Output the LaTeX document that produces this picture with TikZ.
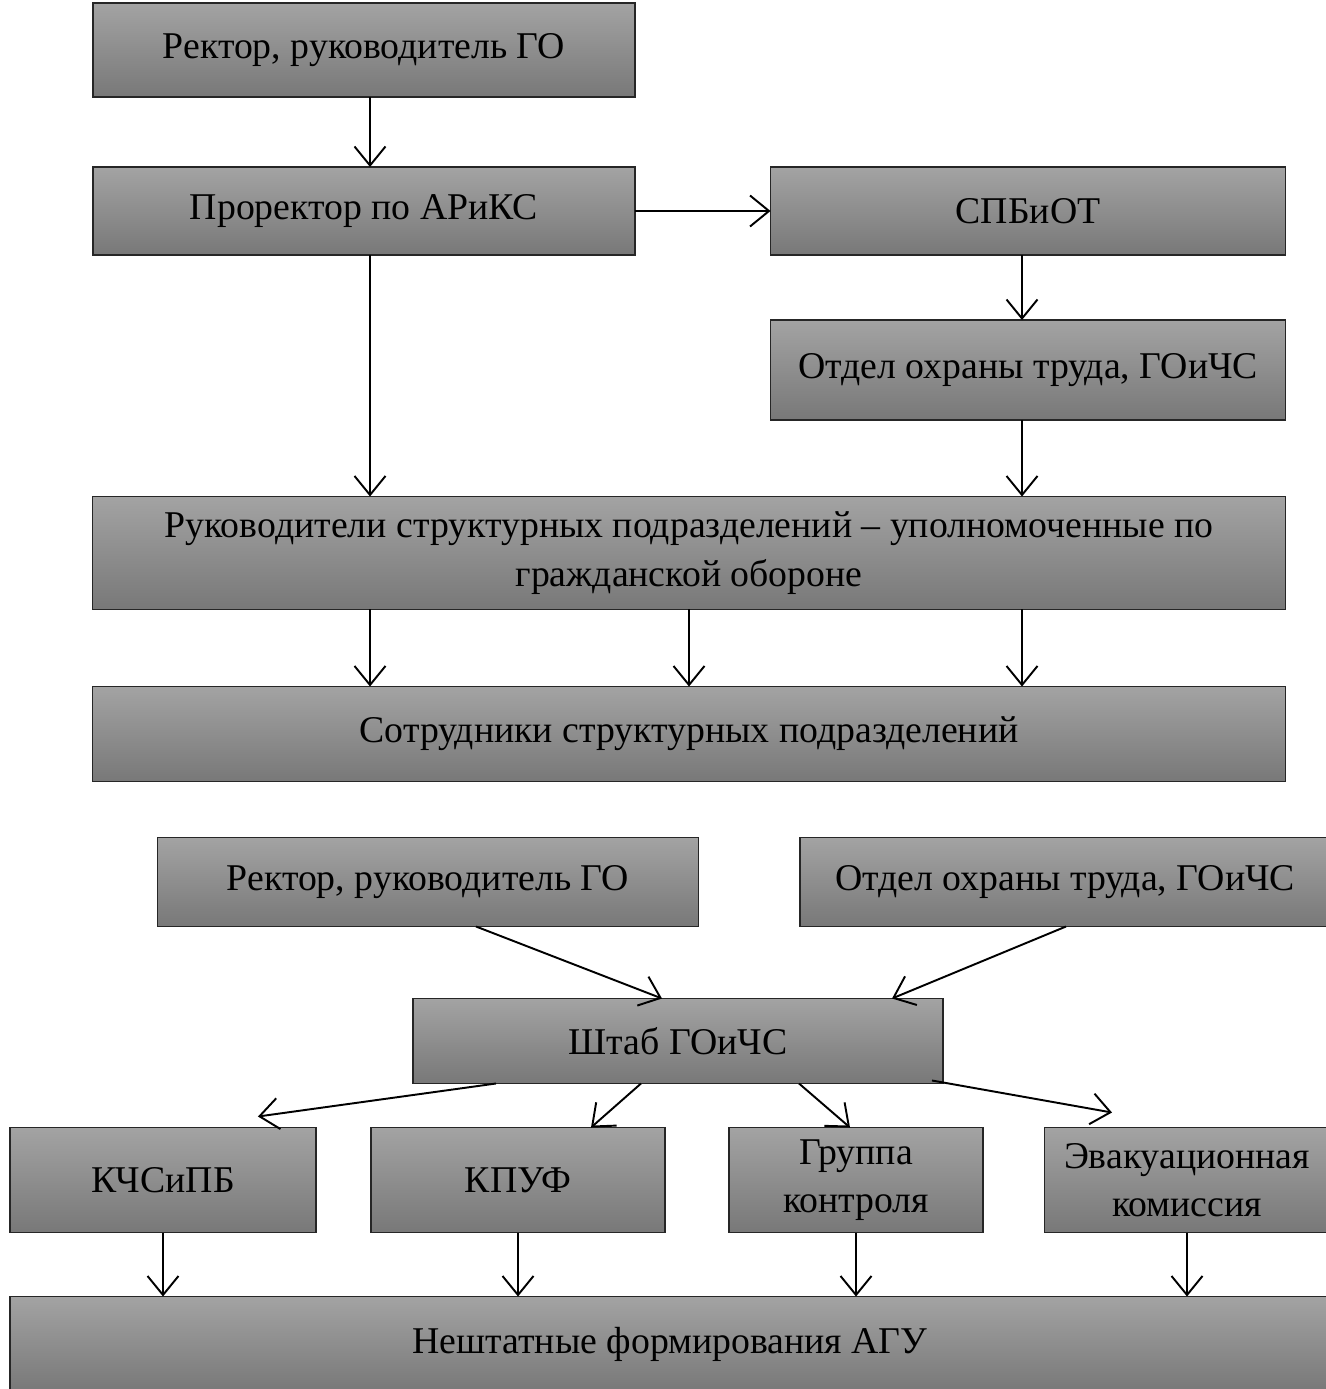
\documentclass[tikz,border=0pt]{standalone}
\usepackage{fontspec}
\setmainfont{Liberation Serif}
\usepackage{tikz}
\usetikzlibrary{calc}
\usetikzlibrary{arrows.meta}

\definecolor{boxtop}{RGB}{163,163,163}
\definecolor{boxbot}{RGB}{120,120,120}

\begin{document}
\begin{tikzpicture}[x=0.02cm, y=-0.02cm,
    orgbox/.style={draw=black!85, line width=0.9pt, rectangle, inner sep=0pt, outer sep=0pt,
      top color=boxtop, bottom color=boxbot, align=center,
      font=\fontsize{21.5}{27.5}\selectfont},
    arr/.style={line width=1.1pt, -{Straight Barb[length=3.8mm, width=6.2mm]}}]
    \useasboundingbox (0,0) rectangle (1325,1389);

    \node[orgbox, minimum width=10.84cm, minimum height=1.88cm] (A) at (364,50)  {Ректор, руководитель ГО};
    \node[orgbox, minimum width=10.84cm, minimum height=1.76cm] (B) at (364,211) {Проректор по АРиКС};
    \node[orgbox, minimum width=10.30cm, minimum height=1.76cm] (C) at (1028,211) {СПБиОТ};
    \node[orgbox, minimum width=10.30cm, minimum height=2.00cm] (D) at (1028,370) {Отдел охраны труда, ГОиЧС};
    \node[orgbox, minimum width=23.86cm, minimum height=2.26cm] (E) at (689,553) {Руководители структурных подразделений – уполномоченные по\\гражданской обороне};
    \node[orgbox, minimum width=23.86cm, minimum height=1.90cm] (F) at (689,734) {Сотрудники структурных подразделений};

    \coordinate (left) at ($(B.south)+(6,0)$);
    \coordinate (right) at ($(D.south)+(-6,0)$);
    \draw[arr] (A.south -| left) -- (B.north -| left);
    \draw[arr] (B.east) -- (C.west);
    \draw[arr] (C.south -| right) -- (D.north -| right);
    \draw[arr] (left) -- (left |- E.north);
    \draw[arr] (right) -- (right |- E.north);
    \draw[arr] (E.south -| left) -- (F.north -| left);
    \draw[arr] (E.south) -- (F.north);
    \draw[arr] (E.south -| right) -- (F.north -| right);

    \node[orgbox, minimum width=10.82cm, minimum height=1.78cm] (G) at (428,882) {Ректор, руководитель ГО};
    \node[orgbox, minimum width=10.60cm, minimum height=1.78cm] (H) at (1065,882) {Отдел охраны труда, ГОиЧС};
    \node[orgbox, minimum width=10.60cm, minimum height=1.70cm] (I) at (678,1041) {Штаб ГОиЧС};
    \node[orgbox, minimum width=6.12cm, minimum height=2.10cm] (J1) at (163,1180) {КЧСиПБ};
    \node[orgbox, minimum width=5.88cm, minimum height=2.10cm] (J2) at (518,1180) {КПУФ};
    \node[orgbox, minimum width=5.08cm, minimum height=2.10cm] (J3) at (856,1180) {Группа\\контроля};
    \node[orgbox, minimum width=5.70cm, minimum height=2.10cm] (J4) at (1187,1180) {Эвакуационная\\комиссия};
    \node[orgbox, minimum width=26.40cm, minimum height=1.90cm] (K) at (670,1344) {Нештатные формирования АГУ};

    \draw[arr] ($(G.south)+(48,0)$) -- ($(I.north)+(-16,0)$);
    \draw[arr] ($(H.south)+(1,0)$) -- ($(I.north)+(214,0)$);
    \draw[arr] ($(I.south west)+(83,0)$) -- ($(J1.north east)+(-58,-11)$);
    \draw[arr] ($(I.south)+(-37,0)$) -- ($(J2.north)+(73,0)$);
    \draw[arr] ($(I.south)+(121,0)$) -- ($(J3.north)+(-6,0)$);
    \draw[arr] ($(I.south east)+(-11,-3)$) -- ($(J4.north)+(-75,-15)$);
    \draw[arr] (J1.south) -- (J1.south |- K.north);
    \draw[arr] (J2.south) -- (J2.south |- K.north);
    \draw[arr] (J3.south) -- (J3.south |- K.north);
    \draw[arr] (J4.south) -- (J4.south |- K.north);
\end{tikzpicture}
\end{document}
